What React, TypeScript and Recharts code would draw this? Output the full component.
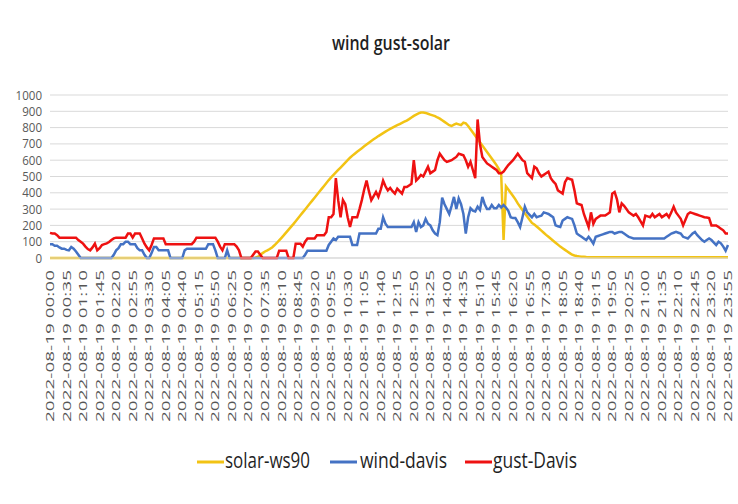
import React from 'react';
import { LineChart, Line, XAxis, YAxis, CartesianGrid } from 'recharts';

// 5-minute timestamps for 2022-08-19
const times: string[] = [];
for (let m = 0; m < 24 * 60; m += 5) {
  const hh = String(Math.floor(m / 60)).padStart(2, '0');
  const mm = String(m % 60).padStart(2, '0');
  times.push(`2022-08-19 ${hh}:${mm}`);
}

const yTicks = [0, 100, 200, 300, 400, 500, 600, 700, 800, 900, 1000];

const solarWs90: number[] = [
  0,0,0,0,0,0,0,0,0,0,0,0,
  0,0,0,0,0,0,0,0,0,0,0,0,
  0,0,0,0,0,0,0,0,0,0,0,0,
  0,0,0,0,0,0,0,0,0,0,0,0,
  0,0,0,0,0,0,0,0,0,0,0,0,
  0,0,0,0,0,0,0,0,0,0,0,0,
  0,0,0,0,0,0,0,0,0,0,0,0,
  0,0,0,2,8,18,30,40,47,55,65,78,
  92,108,124,140,157,174,191,208,226,244,262,280,
  298,316,334,352,370,388,406,424,442,460,478,495,
  510,525,540,555,570,585,600,615,628,640,652,663,
  674,685,696,707,718,728,738,748,757,766,775,784,
  792,800,808,815,822,829,836,843,852,862,872,880,
  887,892,893,890,885,880,875,870,862,855,845,835,
  825,815,810,818,825,820,815,830,826,810,790,770,
  750,730,710,690,670,650,630,610,590,570,545,510,
  110,440,420,400,380,360,335,315,295,275,255,235,
  215,205,193,181,168,155,142,130,118,106,94,82,
  70,60,50,40,30,20,15,12,10,8,8,6,
  5,5,5,5,5,5,5,5,5,5,5,5,
  5,5,5,5,5,5,5,5,5,5,5,5,
  5,5,5,5,5,5,5,5,5,5,5,5,
  5,5,5,5,5,5,5,5,5,5,5,5,
  5,5,5,5,5,5,5,5,5,5,5,5,
];

const windDavis: number[] = [
  84,84,75,75,65,57,57,50,47,67,57,40,
  20,0,0,0,0,0,0,0,0,0,0,0,
  0,0,0,20,47,60,85,85,100,100,85,85,
  85,60,47,47,20,0,0,30,67,67,47,47,
  47,47,47,0,0,0,0,0,0,47,57,57,
  57,57,57,57,57,57,57,85,85,85,47,0,
  0,0,0,47,0,0,0,0,0,0,0,0,
  0,0,0,0,0,0,0,0,0,0,0,0,
  0,0,0,0,0,0,0,0,0,0,0,0,
  20,45,45,45,45,45,45,45,45,45,80,100,
  120,110,130,130,130,130,130,130,80,80,80,150,
  150,150,150,150,150,150,150,180,180,250,210,190,
  190,190,190,190,190,190,190,190,190,190,220,160,
  220,190,200,240,210,200,170,150,140,220,370,330,
  300,270,320,375,300,365,330,270,150,250,305,290,
  285,315,295,375,330,300,300,325,305,305,325,310,
  325,310,290,250,245,245,220,190,250,315,280,265,
  250,270,250,255,260,280,275,270,260,250,200,195,
  190,230,240,250,245,240,200,150,140,130,120,110,
  130,110,88,130,135,140,145,150,155,160,160,150,
  155,160,160,150,140,130,125,120,120,120,120,120,
  120,120,120,120,120,120,120,120,120,130,140,150,
  155,160,155,150,130,125,120,135,150,160,140,125,
  110,100,110,120,110,95,80,100,90,70,45,80,
];

const gustDavis: number[] = [
  154,150,150,140,125,125,125,125,125,125,125,125,
  110,100,88,70,55,47,65,88,47,60,80,85,
  90,98,110,120,125,125,125,125,125,150,150,125,
  150,150,150,120,88,65,47,80,120,120,120,120,
  120,85,85,85,85,85,85,85,85,85,85,85,
  85,100,125,125,125,125,125,125,125,125,125,100,
  70,47,85,85,85,85,85,70,47,0,0,0,
  0,0,20,40,40,20,0,0,0,0,0,0,
  0,45,45,45,45,0,0,0,88,88,88,70,
  100,120,120,120,120,140,140,140,140,160,250,250,
  270,490,355,250,355,330,250,190,250,250,250,300,
  355,420,475,410,355,380,405,375,420,475,440,415,
  430,410,395,425,410,395,435,435,445,455,600,475,
  490,510,500,530,560,520,530,540,600,640,620,600,
  590,595,600,610,620,640,635,630,600,560,590,540,
  490,850,700,620,600,580,570,560,550,540,520,520,
  530,550,570,585,600,620,640,620,600,590,520,505,
  490,560,550,520,500,510,520,530,490,470,455,415,
  405,395,465,490,485,480,415,335,330,325,270,230,
  190,280,210,240,250,260,260,260,270,280,395,405,
  360,280,335,320,300,280,270,260,270,250,225,200,
  260,255,250,270,250,260,270,250,260,270,250,280,
  315,280,260,240,200,235,270,280,275,270,265,260,
  255,250,248,245,200,200,200,190,180,170,150,150,
];

const seriesNames = ['solar-ws90', 'wind-davis', 'gust-Davis'];
const seriesColors = ['#F2C314', '#4472C4', '#EE1111'];

const data = times.map((t, i) => ({
  t,
  solar: solarWs90[i],
  wind: windDavis[i],
  gust: gustDavis[i],
}));

const FONT = '"Open Sans", Lato, sans-serif';

const XTick = (props: any) => {
  const { x, y, payload } = props;
  const len = 152;
  return (
    <g transform={`translate(${x},${y})`}>
      <text
        transform="rotate(-90)"
        x={-(12 + len)}
        y={0}
        dy={4}
        textAnchor="start"
        textLength={len}
        lengthAdjust="spacingAndGlyphs"
        fontSize={11.5}
        fontFamily={FONT}
        fill="#555555"
      >
        {payload.value}
      </text>
    </g>
  );
};

const YTick = (props: any) => {
  const { x, y, payload } = props;
  const s = String(payload.value);
  const len = s.length * 6.6;
  return (
    <text
      x={x - len}
      y={y}
      dy={4.5}
      textAnchor="start"
      textLength={len}
      lengthAdjust="spacingAndGlyphs"
      fontSize={13.5}
      fontFamily={FONT}
      fill="#595959"
    >
      {s}
    </text>
  );
};

const legendItems = [
  { lineX: 197, textX: 225, textLen: 85 },
  { lineX: 330, textX: 360, textLen: 87 },
  { lineX: 465, textX: 493, textLen: 84 },
];

export default function App() {
  return (
    <div
      style={{
        position: 'absolute',
        left: 0,
        top: 0,
        width: 738,
        height: 504,
        background: '#ffffff',
        overflow: 'hidden',
      }}
    >
      <svg
        width={738}
        height={504}
        style={{ position: 'absolute', left: 0, top: 0, pointerEvents: 'none' }}
      >
        <text
          x={332}
          y={50}
          textLength={118}
          lengthAdjust="spacingAndGlyphs"
          fontSize={20}
          fontWeight={600}
          fontFamily={FONT}
          fill="#1f1f1f"
        >
          wind gust-solar
        </text>
        {legendItems.map((it, k) => (
          <g key={k}>
            <line
              x1={it.lineX}
              x2={it.lineX + 27}
              y1={462}
              y2={462}
              stroke={seriesColors[k]}
              strokeWidth={3}
            />
            <text
              x={it.textX}
              y={468}
              textLength={it.textLen}
              lengthAdjust="spacingAndGlyphs"
              fontSize={21}
              fontFamily={FONT}
              fill="#1f1f1f"
            >
              {seriesNames[k]}
            </text>
          </g>
        ))}
      </svg>
      <div style={{ position: 'absolute', left: 0, top: 0 }}>
        <LineChart
          width={738}
          height={504}
          data={data}
          margin={{ top: 95, right: 10, left: 0, bottom: 0 }}
        >
          <CartesianGrid vertical={false} stroke="#D9D9D9" strokeWidth={1} />
          <XAxis
            dataKey="t"
            interval={6}
            height={246}
            tickLine={false}
            tickSize={0}
            tickMargin={0}
            axisLine={{ stroke: '#D9D9D9' }}
            tick={<XTick />}
          />
          <YAxis
            width={50}
            domain={[0, 1000]}
            ticks={yTicks}
            interval={0}
            axisLine={false}
            tickLine={false}
            tickSize={0}
            tickMargin={8}
            tick={<YTick />}
          />
          <Line
            dataKey="solar"
            name={seriesNames[0]}
            stroke={seriesColors[0]}
            strokeWidth={2.5}
            dot={false}
            type="linear"
            isAnimationActive={false}
          />
          <Line
            dataKey="wind"
            name={seriesNames[1]}
            stroke={seriesColors[1]}
            strokeWidth={2.5}
            dot={false}
            type="linear"
            isAnimationActive={false}
          />
          <Line
            dataKey="gust"
            name={seriesNames[2]}
            stroke={seriesColors[2]}
            strokeWidth={2.5}
            dot={false}
            type="linear"
            isAnimationActive={false}
          />
        </LineChart>
      </div>
    </div>
  );
}
